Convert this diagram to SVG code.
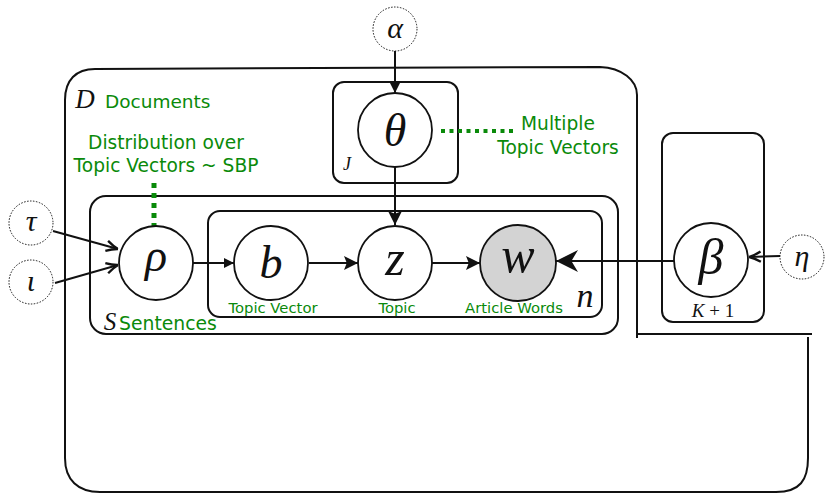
<svg xmlns="http://www.w3.org/2000/svg" width="825" height="493" viewBox="0 0 825 493">
<style>
.plate{fill:none;stroke:#111;stroke-width:2}
.node{fill:#fff;stroke:#111;stroke-width:1.8}
.obs{fill:#d3d3d3;stroke:#111;stroke-width:1.8}
.hyper{fill:#fff;stroke:#111;stroke-width:1;stroke-dasharray:1.5 1.5}
.sym{font-family:"Liberation Serif","DejaVu Serif",serif;font-style:italic;fill:#111;text-anchor:middle}
.lab{font-family:"DejaVu Sans",sans-serif;fill:#0a8a0a}
.edge{fill:none;stroke:#111;stroke-width:2}
.dots{fill:none;stroke:#0a8a0a}
</style>
<defs>
<marker id="aS" viewBox="0 0 10 10" refX="10" refY="5" markerWidth="12" markerHeight="10" markerUnits="userSpaceOnUse" orient="auto"><path d="M0,0 L10,5 L0,10 z" fill="#111"/></marker>
<marker id="aM" viewBox="0 0 10 10" refX="10" refY="5" markerWidth="20" markerHeight="14" markerUnits="userSpaceOnUse" orient="auto"><path d="M0,0 L10,5 L0,10 L2,5 z" fill="#111"/></marker>
<marker id="aL" viewBox="0 0 10 10" refX="10" refY="5" markerWidth="28" markerHeight="22" markerUnits="userSpaceOnUse" orient="auto"><path d="M0,0 L10,5 L0,10 L3,5 z" fill="#111"/></marker>
<marker id="aO" viewBox="0 0 10 10" refX="10" refY="5" markerWidth="13" markerHeight="13" markerUnits="userSpaceOnUse" orient="auto"><path d="M1,1 Q6,4 10,5 Q6,6 1,9" fill="none" stroke="#111" stroke-width="1.8"/></marker>
</defs>

<g id="plate-D">
<path class="plate" d="M95,69 L600,67 C622,68 637,80 637,95 L637,338"/>
<path class="plate" d="M638,334 L812,334"/>
<path class="plate" d="M808,337 L808,458 C808,480 800,492 776,492 L100,492 C78,492 65,480 65,458 L65,100 C65,80 76,69 95,69"/>
<text class="sym" x="85" y="108" font-size="27">D</text>
<text class="lab" x="105" y="108" font-size="18.5">Documents</text>
</g>

<g id="plate-J">
<rect class="plate" x="333" y="82" width="125" height="101" rx="11"/>
<text class="sym" x="347" y="170" font-size="18">J</text>
</g>

<g id="plate-S">
<rect class="plate" x="90" y="196" width="528" height="138" rx="16" stroke-width="2.4"/>
<text class="sym" x="110" y="330" font-size="25">S</text>
<text class="lab" x="119" y="330" font-size="18.8">Sentences</text>
</g>

<g id="plate-n">
<rect class="plate" x="208" y="211" width="394" height="106" rx="12"/>
<text class="sym" x="585" y="307" font-size="34">n</text>
</g>

<g id="plate-K">
<rect class="plate" x="662" y="133" width="102" height="189" rx="11"/>
<text class="sym" x="713" y="317" font-size="19">K<tspan font-style="normal"> + 1</tspan></text>
</g>

<g id="connectors">
<line class="edge" x1="395" y1="51" x2="395" y2="93" stroke-width="1.5" marker-end="url(#aS)"/>
<line class="edge" x1="395" y1="167" x2="395" y2="225" stroke-width="1.8" marker-end="url(#aM)"/>
<line class="edge" x1="53" y1="231" x2="118" y2="249" stroke-width="2" marker-end="url(#aO)"/>
<line class="edge" x1="55" y1="283" x2="118" y2="265" stroke-width="2" marker-end="url(#aO)"/>
<line class="edge" x1="193" y1="263" x2="234" y2="263" stroke-width="1.6" marker-end="url(#aS)"/>
<line class="edge" x1="309" y1="263" x2="358" y2="263" stroke-width="1.8" marker-end="url(#aM)"/>
<line class="edge" x1="432" y1="263" x2="480" y2="263" stroke-width="1.8" marker-end="url(#aM)"/>
<line class="edge" x1="688" y1="261" x2="556" y2="261" stroke-width="3.2" marker-end="url(#aL)"/>
<line class="edge" x1="780" y1="256" x2="749" y2="257" stroke-width="1.4" marker-end="url(#aO)"/>
</g>

<g id="note-sbp">
<line class="dots" x1="154" y1="183" x2="154" y2="237" stroke-width="5" stroke-dasharray="5 5"/>
<text class="lab" font-size="18.6" text-anchor="middle"><tspan x="166" y="149">Distribution over</tspan><tspan x="166" y="172">Topic Vectors ~ SBP</tspan></text>
</g>

<g id="note-multi">
<line class="dots" x1="441" y1="131" x2="513" y2="131" stroke-width="4" stroke-dasharray="4 4.5"/>
<text class="lab" font-size="18.6" text-anchor="middle"><tspan x="558" y="130">Multiple</tspan><tspan x="558" y="154">Topic Vectors</tspan></text>
</g>

<g id="node-alpha">
<circle class="hyper" cx="395" cy="29" r="22"/>
<text class="sym" x="395" y="38" font-size="30">α</text>
</g>
<g id="node-theta">
<circle class="node" cx="395" cy="130" r="37"/>
<text class="sym" x="395" y="146" font-size="46">θ</text>
</g>
<g id="node-tau">
<circle class="hyper" cx="31" cy="223" r="22"/>
<text class="sym" x="31" y="231" font-size="30">τ</text>
</g>
<g id="node-iota">
<circle class="hyper" cx="31" cy="282" r="22"/>
<text class="sym" x="31" y="291" font-size="30">ι</text>
</g>
<g id="node-rho">
<circle class="node" cx="156" cy="263" r="37"/>
<text class="sym" x="156" y="271" font-size="46">ρ</text>
</g>
<g id="node-b">
<circle class="node" cx="271" cy="263" r="37"/>
<text class="sym" x="271" y="278" font-size="46">b</text>
<text class="lab" x="273" y="313" font-size="14.8" text-anchor="middle">Topic Vector</text>
</g>
<g id="node-z">
<circle class="node" cx="395" cy="263" r="37"/>
<text class="sym" x="395" y="275" font-size="50">z</text>
<text class="lab" x="397" y="313" font-size="14.8" text-anchor="middle">Topic</text>
</g>
<g id="node-w">
<circle class="obs" cx="518" cy="263" r="38"/>
<text class="sym" x="518" y="272" font-size="50">w</text>
<text class="lab" x="514" y="313" font-size="14.8" text-anchor="middle">Article Words</text>
</g>
<g id="node-beta">
<circle class="node" cx="711" cy="260" r="37"/>
<text class="sym" x="711" y="274" font-size="50">β</text>
</g>
<g id="node-eta">
<circle class="hyper" cx="802" cy="257" r="22"/>
<text class="sym" x="802" y="266" font-size="30">η</text>
</g>
</svg>
